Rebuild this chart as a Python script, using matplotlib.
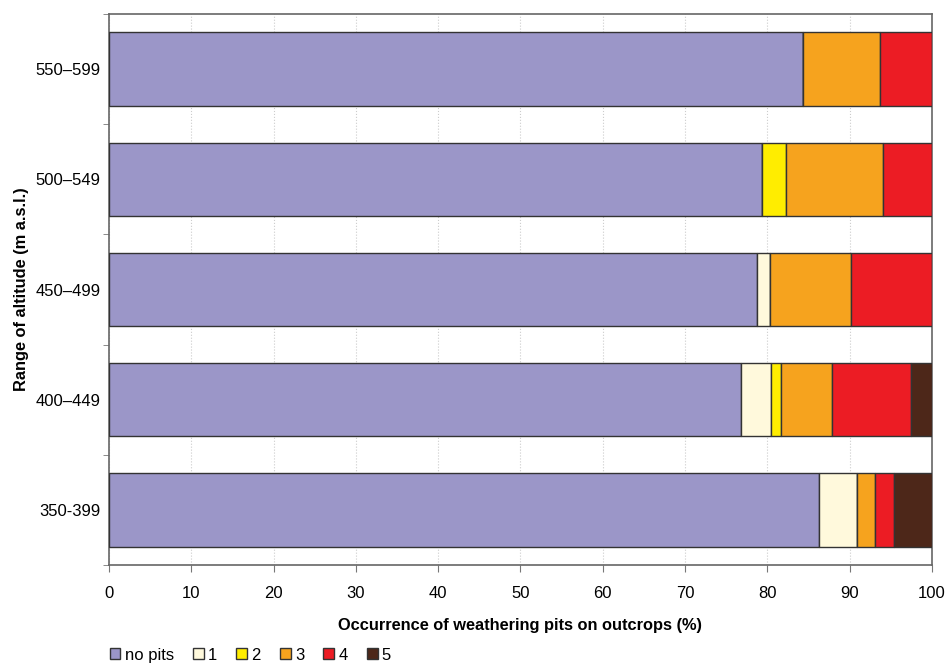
import matplotlib.pyplot as plt
import numpy as np

plt.rcParams['font.family'] = ['Liberation Sans', 'DejaVu Sans']

altitudes = ['350-399', '400\u2013449', '450\u2013499', '500\u2013549', '550\u2013599']
classes = ['no pits', '1', '2', '3', '4', '5']
colors = ['#9b96c8', '#fff9dc', '#ffed00', '#f6a31e', '#ec1c24', '#4d2719']

# share (%) of outcrops per class, rows follow altitudes
no_pits = [86.3, 76.8, 78.7, 79.4, 84.3]
pits_1 = [4.6, 3.6, 1.6, 0.0, 0.0]
pits_2 = [0.0, 1.3, 0.0, 2.9, 0.0]
pits_3 = [2.2, 6.1, 9.8, 11.7, 9.4]
pits_4 = [2.3, 9.7, 9.9, 6.0, 6.3]
pits_5 = [4.6, 2.5, 0.0, 0.0, 0.0]


def main():
    series = [no_pits, pits_1, pits_2, pits_3, pits_4, pits_5]
    fig = plt.figure(figsize=(9.46, 6.63), dpi=100)
    ax = fig.add_axes([0.1152, 0.1478, 0.87, 0.831])
    y = np.arange(len(altitudes))
    left = np.zeros(len(altitudes))
    handles = []
    for vals, col, name in zip(series, colors, classes):
        vals = np.array(vals)
        b = ax.barh(y, vals, left=left, height=0.667, color=col,
                    edgecolor='#333333', linewidth=1.0, label=name, zorder=3)
        handles.append(b)
        left += vals

    ax.set_xlim(0, 100)
    ax.set_ylim(-0.45, 4.49)
    ax.set_xticks(np.arange(0, 101, 10))
    ax.set_yticks(y)
    ax.set_yticklabels(altitudes)
    ax.set_yticks(np.arange(-0.5, 4.6, 1), minor=True)
    ax.tick_params(axis='y', which='major', length=0, pad=6, labelsize=12)
    ax.tick_params(axis='y', which='minor', length=4, color='#777777')
    ax.tick_params(axis='x', length=5, color='#777777', labelsize=12, pad=10)
    ax.xaxis.grid(True, linestyle=':', color='#cccccc', linewidth=0.8, zorder=0)
    for s in ax.spines.values():
        s.set_color('#666666')
        s.set_linewidth(1.2)

    ax.set_xlabel('Occurrence of weathering pits on outcrops (%)',
                  fontsize=11.8, fontweight='bold', labelpad=12)
    ax.set_ylabel('Range of altitude (m a.s.l.)', fontsize=11.8,
                  fontweight='bold', labelpad=5)

    fig.legend(handles=handles, loc='lower left', bbox_to_anchor=(0.1, -0.022),
               ncol=6, frameon=False, fontsize=12, handlelength=0.65,
               handleheight=0.6, handletextpad=0.25, columnspacing=1.15)
    fig.savefig('out.png', dpi=100)


if __name__ == '__main__':
    main()
